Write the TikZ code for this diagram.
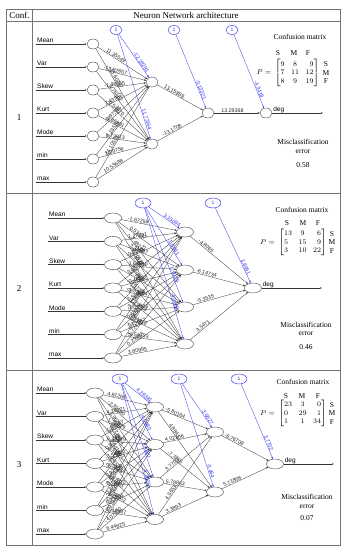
\documentclass[tikz,border=0pt]{standalone}
\usepackage{amsmath}
\usepackage{fontspec}
\setmainfont{Liberation Serif}
\setsansfont{Liberation Sans}
\usetikzlibrary{shapes.geometric, arrows.meta, positioning}
\definecolor{BiasBlue}{RGB}{55,55,235}
\tikzset{
  tabline/.style={draw=black!55, line width=0.5pt},
  headT/.style={font=\fontsize{9}{10}\selectfont, inner sep=0pt},
  cmT/.style={font=\fontsize{7.5}{8.5}\selectfont, inner sep=0pt, align=center},
  neuronA/.style={ellipse, draw=black!80, fill=white, line width=0.35pt,
                  minimum width=12pt, minimum height=10pt, inner sep=0pt},
  neuronB/.style={neuronA, minimum width=17pt},
  biasA/.style={ellipse, draw=BiasBlue, fill=white, line width=0.45pt, text=BiasBlue,
                font=\sffamily\fontsize{5}{5}\selectfont,
                minimum width=12pt, minimum height=9pt, inner sep=0pt},
  biasB/.style={biasA, minimum width=16pt, minimum height=10pt},
  wire/.style={draw=black!80, line width=0.3pt, -{Stealth[length=2.2pt,width=1.8pt]}},
  bwire/.style={wire, draw=BiasBlue},
  inwire/.style={draw=black!80, line width=0.4pt, -{Latex[length=1.8pt,width=1.6pt]}},
  inlab/.style={font=\sffamily\fontsize{6.5}{7}\selectfont, anchor=south west,
                inner sep=1pt, text depth=0pt},
  wlab/.style={font=\sffamily\fontsize{5.3}{5.3}\selectfont, sloped, above,
               inner sep=0.4pt, text=black!85},
  blab/.style={wlab, text=BiasBlue},
}
\newcommand{\confmat}[9]{$P = \,\left[\begin{array}{@{}l@{\hspace{6.5pt}}c@{\hspace{6.5pt}}r@{}}
  #1&#2&#3\\#4&#5&#6\\#7&#8&#9\end{array}\right]$}

\begin{document}
\begin{tikzpicture}[x=1pt, y=-1pt]
    \useasboundingbox (0,0) rectangle (348,550);
    %% table frame
    \draw[tabline] (6.5,9) rectangle (340.5,545);
    \draw[tabline] (6.5,21) -- (340.5,21);
    \draw[tabline] (32,9) -- (32,545);
    \draw[tabline] (6.5,193) -- (340.5,193);
    \draw[tabline] (6.5,370) -- (340.5,370);
    \node[headT] (hConf) at (19.5,15) {Conf.};
    \node[headT] (hArch) at (186,15) {Neuron Network architecture};
    \node[headT] (cfg1) at (19,118) {1};
    \node[headT] (cfg2) at (19,289) {2};
    \node[headT] (cfg3) at (19,465) {3};

    %% ---------------- configuration 1 ----------------
    \foreach \t [count=\n] in {Mean,Var,Skew,Kurt,Mode,min,max}
      \node[neuronA] (A-x\n) at (93,{44+23*(\n-1)}) {};
    \node[neuronA] (A-h1) at (152,82) {};
    \node[neuronA] (A-h2) at (152,144) {};
    \node[neuronA] (A-k)  at (208,113) {};
    \node[neuronA] (A-y)  at (266,113) {};
    \node[biasA] (A-b1) at (116,30) {1};
    \node[biasA] (A-b2) at (174,30) {1};
    \node[biasA] (A-b3) at (232,30) {1};
    \foreach \t [count=\n] in {Mean,Var,Skew,Kurt,Mode,min,max}{
      \node[inlab] (A-l\n) at (36,{44+23*(\n-1)}) {\t};
      \draw[inwire] (A-l\n.south west) -- (A-x\n);
    }
    \foreach \i/\j/\w in {1/1/11.35549, 1/2/-15.60297, 2/1/-13.82657, 2/2/4.78162,
        3/1/-1.48865, 3/2/-0.54970, 4/1/2.43962, 4/2/3.86491, 5/1/-0.97385,
        5/2/4.72913, 6/1/-1.18529, 6/2/1.09756, 7/1/14.10501, 7/2/10.53688}
      \draw[wire] (A-x\i) -- node[wlab, pos=0.34] {\w} (A-h\j);
    \draw[bwire] (A-b1) -- node[blab, pos=0.68] {-12.28281} (A-h1);
    \draw[bwire] (A-b1) -- node[blab, pos=0.82] {11.77364} (A-h2);
    \draw[wire] (A-h1) -- node[wlab, pos=0.35] {13.15888} (A-k);
    \draw[wire] (A-h2) -- node[wlab, pos=0.35] {-13.1708} (A-k);
    \draw[bwire] (A-b2) -- node[blab, pos=0.76] {-0.13321} (A-k);
    \draw[wire] (A-k) -- node[wlab, pos=0.4] {13.29368} (A-y);
    \draw[bwire] (A-b3) -- node[blab, pos=0.76] {-4.3418} (A-y);
    \coordinate (A-e) at (323,113);
    \draw[inwire] (A-y) -- (A-e);
    \node[inlab] (A-d) at (A-y.east) {deg};
    %% confusion matrix 1
    \node[cmT] (A-cm) at (300,37) {Confusion matrix};
    \foreach \x/\t in {278/S,294/M,308/F}
      \node[cmT] (A-c\t) at (\x,53) {\t};
    \node[cmT, anchor=west] (A-P) at (256.5,73) {\confmat{9}{8}{9}{7}{11}{12}{8}{9}{19}};
    \node[cmT] (A-R) at (326,73) {S\\M\\F};
    \node[cmT] (A-me) at (303,146.5) {Misclassification\\error};
    \node[cmT] (A-mv) at (303,165) {0.58};

    %% ---------------- configuration 2 ----------------
    \foreach \t [count=\n] in {Mean,Var,Skew,Kurt,Mode,min,max}
      \node[neuronB] (B-x\n) at (113,{218+23.33*(\n-1)}) {};
    \foreach \y [count=\n] in {232,270,307,344}
      \node[neuronB] (B-h\n) at (185,\y) {};
    \node[neuronB] (B-y) at (253,288) {};
    \node[biasB] (B-b1) at (143,203) {1};
    \node[biasB] (B-b2) at (213,203) {1};
    \foreach \t [count=\n] in {Mean,Var,Skew,Kurt,Mode,min,max}{
      \node[inlab] (B-l\n) at (48,{218+23.33*(\n-1)}) {\t};
      \draw[inwire] (B-l\n.south west) -- (B-x\n);
    }
    \foreach \i/\j/\w in {1/1/-1.67258, 1/2/0.53147, 1/3/2.48120, 1/4/-0.86621,
        2/1/1.27531, 2/2/-2.11987, 2/3/0.94472, 2/4/3.20685,
        3/1/-0.89655, 3/2/1.54810, 3/3/-2.75342, 3/4/0.37219,
        4/1/2.08361, 4/2/-0.46177, 4/3/1.83594, 4/4/-1.29048,
        5/1/0.71058, 5/2/2.56903, 5/3/-1.05726, 5/4/0.84412,
        6/1/-2.31884, 6/2/0.68275, 6/3/1.15957, 6/4/-0.59133,
        7/1/1.40652, 7/2/-1.77420, 7/3/0.25983, 7/4/3.80995}
      \draw[wire] (B-x\i) -- node[wlab, pos=0.3] {\w} (B-h\j);
    \foreach \j/\w in {1/3.15094, 2/1.8681, 3/1.6029, 4/-4.0659}
      \draw[bwire] (B-b1) -- node[blab, pos=0.72] {\w} (B-h\j);
    \foreach \j/\w in {1/-4.8065, 2/-6.14734, 3/-5.3535, 4/3.5471}
      \draw[wire] (B-h\j) -- node[wlab, pos=0.25] {\w} (B-y);
    \draw[bwire] (B-b2) -- node[blab, pos=0.8] {3.8661} (B-y);
    \coordinate (B-e) at (322,288);
    \draw[inwire] (B-y) -- (B-e);
    \node[inlab] (B-d) at (B-y.east) {deg};
    %% confusion matrix 2
    \node[cmT] (B-cm) at (302,210) {Confusion matrix};
    \foreach \x/\t in {287/S,303/M,318/F}
      \node[cmT] (B-c\t) at (\x,223) {\t};
    \node[cmT, anchor=west] (B-P) at (260,242.5) {\confmat{13}{9}{6}{5}{15}{9}{3}{10}{22}};
    \node[cmT] (B-R) at (332,242.5) {S\\M\\F};
    \node[cmT] (B-me) at (306,329) {Misclassification\\error};
    \node[cmT] (B-mv) at (306,347) {0.46};

    %% ---------------- configuration 3 ----------------
    \foreach \t [count=\n] in {Mean,Var,Skew,Kurt,Mode,min,max}
      \node[neuronB] (C-x\n) at (95,{393+23.5*(\n-1)}) {};
    \foreach \y [count=\n] in {407,444.5,482,519.5}
      \node[neuronB] (C-h\n) at (155,\y) {};
    \node[neuronB] (C-k1) at (215,432) {};
    \node[neuronB] (C-k2) at (215,492) {};
    \node[neuronB] (C-y) at (275,464) {};
    \node[biasB] (C-b1) at (120,379) {1};
    \node[biasB] (C-b2) at (179,379) {1};
    \node[biasB] (C-b3) at (239,379) {1};
    \foreach \t [count=\n] in {Mean,Var,Skew,Kurt,Mode,min,max}{
      \node[inlab] (C-l\n) at (36,{393+23.5*(\n-1)}) {\t};
      \draw[inwire] (C-l\n.south west) -- (C-x\n);
    }
    \foreach \i/\j/\w in {1/1/4.81266, 1/2/-2.35180, 1/3/1.96243, 1/4/-3.07715,
        2/1/4.36521, 2/2/1.22879, 2/3/-0.78564, 2/4/2.64190,
        3/1/-1.94837, 3/2/6.38779, 3/3/3.11562, 3/4/-0.45328,
        4/1/0.87614, 4/2/-3.54201, 4/3/2.20973, 4/4/1.67045,
        5/1/-2.71436, 5/2/0.92558, 5/3/0.22070, 5/4/-1.38902,
        6/1/3.45217, 6/2/-1.60483, 6/3/0.75391, 6/4/2.48957,
        7/1/-0.63120, 7/2/2.91846, 7/3/-4.07332, 7/4/6.44825}
      \draw[wire] (C-x\i) -- node[wlab, pos=0.3] {\w} (C-h\j);
    \foreach \j/\w in {1/4.28381, 2/4.0680, 3/3.4880, 4/-4.3605}
      \draw[bwire] (C-b1) -- node[blab, pos=0.72] {\w} (C-h\j);
    \foreach \i/\j/\w in {1/1/-5.80164, 1/2/4.8841, 2/1/4.02106, 2/2/-7.7255,
        3/1/3.7703, 3/2/5.78853, 4/1/4.5653, 4/2/3.3893}
      \draw[wire] (C-h\i) -- node[wlab, pos=0.27] {\w} (C-k\j);
    \draw[bwire] (C-b2) -- node[blab, pos=0.8] {3.6627} (C-k1);
    \draw[bwire] (C-b2) -- node[blab, pos=0.85] {-3.464} (C-k2);
    \draw[wire] (C-k1) -- node[wlab, pos=0.25] {-6.76708} (C-y);
    \draw[wire] (C-k2) -- node[wlab, pos=0.25] {5.71806} (C-y);
    \draw[bwire] (C-b3) -- node[blab, pos=0.8] {3.7702} (C-y);
    \coordinate (C-e) at (334,464);
    \draw[inwire] (C-y) -- (C-e);
    \node[inlab] (C-d) at (C-y.east) {deg};
    %% confusion matrix 3
    \node[cmT] (C-cm) at (303,382) {Confusion matrix};
    \foreach \x/\t in {286/S,302/M,318/F}
      \node[cmT] (C-c\t) at (\x,396) {\t};
    \node[cmT, anchor=west] (C-P) at (260,413.5) {\confmat{23}{3}{0}{0}{29}{1}{1}{1}{34}};
    \node[cmT] (C-R) at (332,413.5) {S\\M\\F};
    \node[cmT] (C-me) at (307,501.5) {Misclassification\\error};
    \node[cmT] (C-mv) at (307,518) {0.07};
  \end{tikzpicture}
\end{document}
